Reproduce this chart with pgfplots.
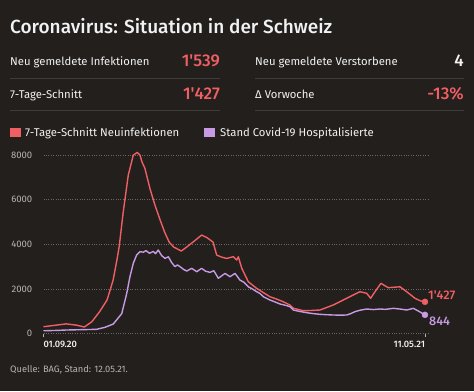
\documentclass[border=0pt]{standalone}
\usepackage{pgfplots}
\pgfplotsset{compat=1.18}
\usepackage{fontspec}
\setmainfont{Fira Sans}
\newfontfamily\medfont{Fira Sans Medium}
\newcommand{\ap}{\textquotesingle}
\definecolor{bg}{HTML}{221F1D}
\definecolor{redl}{HTML}{EF5F63}
\definecolor{purl}{HTML}{C79BE4}
\definecolor{txt}{HTML}{F2F2F2}
\definecolor{gridc}{HTML}{6A6662}
\definecolor{lbl}{HTML}{B8B4AF}
\definecolor{sep}{HTML}{3E3B38}
\begin{document}
\begin{tikzpicture}
\fill[bg] (0,0) rectangle (474pt,391pt);
\useasboundingbox (0,0) rectangle (474pt,391pt);
% title
\node[anchor=base west, inner sep=0, text=txt, font=\medfont\fontsize{19}{22}\selectfont] at (10pt,357.7pt) {Coronavirus: Situation in der Schweiz};
% rows
\node[anchor=base west, inner sep=0, text=txt, font=\fontsize{11.3}{13}\selectfont] at (10pt,325pt) {Neu gemeldete Infektionen};
\node[anchor=base east, inner sep=0, text=redl, font=\medfont\fontsize{17}{19}\selectfont] at (220pt,324.5pt) {1\ap539};
\node[anchor=base west, inner sep=0, text=txt, font=\fontsize{11.3}{13}\selectfont] at (255pt,325pt) {Neu gemeldete Verstorbene};
\node[anchor=base east, inner sep=0, text=txt, font=\medfont\fontsize{17}{19}\selectfont] at (464pt,324.5pt) {4};
\draw[sep, line width=0.8pt] (10pt,312.5pt) -- (220pt,312.5pt);
\draw[sep, line width=0.8pt] (255pt,312.5pt) -- (464pt,312.5pt);
\node[anchor=base west, inner sep=0, text=txt, font=\fontsize{11.3}{13}\selectfont] at (10pt,292pt) {7-Tage-Schnitt};
\node[anchor=base east, inner sep=0, text=redl, font=\medfont\fontsize{17}{19}\selectfont] at (220pt,291.7pt) {1\ap427};
\node[anchor=base west, inner sep=0, text=txt, font=\fontsize{11.3}{13}\selectfont] at (255pt,292pt) {Δ Vorwoche};
\node[anchor=base east, inner sep=0, text=redl, font=\medfont\fontsize{17}{19}\selectfont] at (464pt,291.7pt) {-13\%};
\draw[sep, line width=0.8pt] (10pt,281pt) -- (220pt,281pt);
\draw[sep, line width=0.8pt] (255pt,281pt) -- (464pt,281pt);
% legend
\fill[redl] (10pt,253.7pt) rectangle (20.5pt,263pt);
\node[anchor=base west, inner sep=0, text=txt, font=\fontsize{11.3}{13}\selectfont] at (25pt,254.3pt) {7-Tage-Schnitt Neuinfektionen};
\fill[purl] (204pt,253.7pt) rectangle (214.5pt,263pt);
\node[anchor=base west, inner sep=0, text=txt, font=\fontsize{11.3}{13}\selectfont] at (220pt,254.3pt) {Stand Covid-19 Hospitalisierte};
% source
\node[anchor=base west, inner sep=0, text=lbl, font=\fontsize{9.3}{11}\selectfont] at (10pt,18.7pt) {Quelle: BAG, Stand: 12.05.21.};
\begin{axis}[
  at={(43.5pt,57.3pt)}, anchor=south west,
  scale only axis, width=384.5pt, height=183.2pt,
  xmin=0, xmax=254, ymin=0, ymax=8200,
  clip=false,
  axis line style={draw=none},
  ytick={0,2000,4000,6000,8000},
  yticklabels={0,2000,4000,6000,8000},
  ymajorgrids,
  grid style={gridc, dotted, line width=0.7pt},
  y tick style={draw=none},
  yticklabel style={font=\fontsize{9.5}{11}\selectfont, text=lbl, anchor=east, inner sep=0pt, xshift=-7.5pt},
  xtick={0,252},
  xticklabels={\makebox[0pt][l]{01.09.20},\makebox[0pt][r]{11.05.21}},
  xtick pos=bottom, tick align=outside,
  major tick length=3.5pt,
  x tick style={lbl, line width=0.8pt},
  xticklabel style={font=\medfont\fontsize{9.3}{11}\selectfont, text=txt},
]
\addplot[redl, line width=1.4pt, line join=round] coordinates {
(0,313)(8,380)(15,440)(22,380)(27,300)(32,540)(37,980)(42,1510)(46,2400)(48.5,3300)(50,3900)(52.7,5460)(56,7100)(59.3,7995)(62,8115)(63.7,8000)(65,7700)(67,7400)(70.3,6500)(73.6,5760)(77,5100)(80,4550)(83,4100)(86,3880)(91,3700)(95,3900)(99,4115)(104.5,4415)(108,4300)(112,4100)(114.4,3520)(118,3420)(121,3370)(125.4,3445)(127.6,3300)(128.7,3445)(131,2925)(135.3,2325)(140.8,2030)(145,1850)(149.6,1655)(154,1550)(158.4,1430)(162.8,1285)(165,1140)(171.6,1030)(177,1040)(182.6,1060)(191.4,1285)(200.3,1585)(209,1880)(213.5,1808)(216.1,1585)(219,1880)(222.9,2255)(227.7,2060)(235.5,2100)(239.9,1880)(245.4,1585)(249,1470)(252,1427)
};
\addplot[purl, line width=1.4pt, line join=round] coordinates {
(0,130)(10,150)(15,165)(25,180)(35,195)(40.6,286)(46.1,434)(51.7,900)(55,1808)(57.1,2550)(59.3,3150)(61.5,3520)(63.7,3670)(66,3650)(67.7,3720)(70,3600)(72.5,3680)(74,3580)(75.8,3745)(78,3500)(80.3,3370)(82.5,3445)(84.5,3200)(86.8,3000)(88.5,3080)(90.2,3000)(92.5,2880)(94.6,2805)(97.9,2925)(101.2,2775)(104.5,2925)(107,2800)(110,2745)(112.5,2820)(115.5,2480)(119.9,2700)(123.2,2550)(126.5,2700)(129.8,2400)(132.5,2300)(135.3,2100)(138,2000)(140.8,1880)(143,1800)(145.2,1655)(149.6,1508)(153,1420)(156.2,1330)(160,1270)(162.8,1210)(165,1060)(169,1000)(173.9,940)(178,900)(182.6,868)(187,850)(191.4,837)(196,830)(200.3,837)(203,900)(205.7,985)(209,1050)(213.5,1105)(218,1080)(222.3,1105)(226,1090)(231.1,1136)(236,1100)(239.9,1060)(244.3,1136)(248,1000)(252,844)
};
\addplot[only marks, mark=*, mark size=3pt, redl] coordinates {(252,1427)};
\addplot[only marks, mark=*, mark size=3pt, purl] coordinates {(252,844)};
\node[anchor=west, inner sep=0, text=redl, font=\medfont\fontsize{12.5}{14}\selectfont] at (axis cs:252,1427) [xshift=3pt, yshift=7pt] {1\ap427};
\node[anchor=west, inner sep=0, text=purl, font=\medfont\fontsize{12.5}{14}\selectfont] at (axis cs:252,844) [xshift=4pt, yshift=-6.7pt] {844};
\end{axis}
\end{tikzpicture}
\end{document}
